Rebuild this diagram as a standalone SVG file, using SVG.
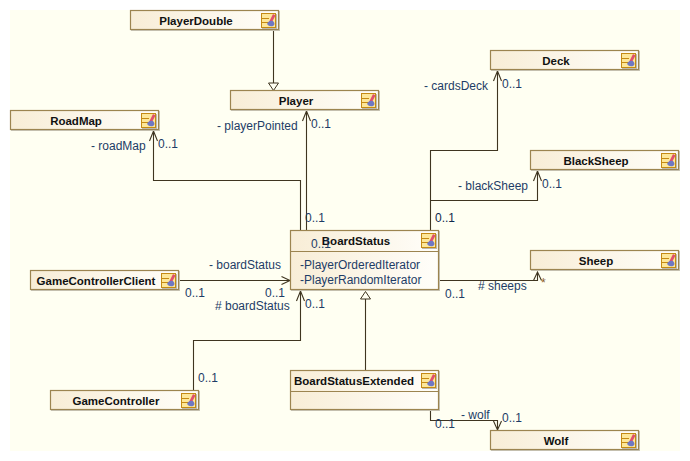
<svg xmlns="http://www.w3.org/2000/svg" width="690" height="461" viewBox="0 0 690 461">
<defs>
<linearGradient id="g" x1="0" y1="0" x2="1" y2="0"><stop offset="0" stop-color="#f8edd6"/><stop offset="1" stop-color="#fffefa"/></linearGradient>
<g id="ic">
<rect x="1" y="1" width="15" height="15" fill="#bdbab0"/>
<rect x="0.500" y="0.500" width="14" height="14" fill="#fde79a" stroke="#c48a14" stroke-width="1"/>
<path d="M1 5.500H8M1 9.500H8" stroke="#c48a14" fill="none"/>
<path d="M8 9L12 1L14.500 2.500L10.500 10Z" fill="#e0506e"/>
<path d="M6 11Q8 7 12 8Q15 11 12 13Q8 14 6 11Z" fill="#6f78c4"/>
</g>
</defs>
<style>
.b{fill:url(#g);stroke:#9c8450;stroke-width:1.200}
.s{fill:none;stroke:#c9c6b8;stroke-width:1}
.d{stroke:#9c8450;fill:none;stroke-width:1.200}
.n{font:bold 11.500px "Liberation Sans",Arial,sans-serif;fill:#111;text-anchor:middle}
.t{font:12px "Liberation Sans",Arial,sans-serif;fill:#1d3c66}
.c{fill:none;stroke:#3f3520;stroke-width:1.100}
.h{fill:#fffff2;stroke:#3f3520;stroke-width:1}
</style>
<rect x="0" y="0" width="690" height="461" fill="#ffffff"/>
<rect x="10" y="10" width="670" height="441" fill="#fffff2"/>
<g id="connectors">
<path class="c" d="M273.500 30V83"/>
<path class="h" d="M273.500 90.500L268.500 83H278.500Z"/>
<path class="c" d="M306.500 256V111M302.500 121L306.500 111L310.500 121"/>
<path class="c" d="M300.500 230V180.500H153.500V131M149.500 141L153.500 131L157.500 141"/>
<path class="c" d="M430.500 230V150.500H497.500V71M493.500 81L497.500 71L501.500 81"/>
<path class="c" d="M430.500 200.500H537.500V171M533.500 181L537.500 171L541.500 181"/>
<path class="c" d="M440 280.500H537.500V272M533.500 280.500L537.500 272L541.500 280.500"/>
<path class="c" d="M180 280.500H290M281.500 276.500L290 280.500L281.500 284.500"/>
<path class="c" d="M193.500 390V340.500H300.500V291M296.500 301L300.500 291L304.500 301"/>
<path class="c" d="M365.500 370V299"/>
<path class="h" d="M365.500 291.500L360.500 299H370.500Z"/>
<path class="c" d="M430.500 410V420.500H497.500V430M493.500 421L497.500 430L501.500 421"/>
</g>
<g id="PlayerDouble"><rect class="s" x="131.500" y="11.500" width="148" height="19"/><rect class="b" x="130.500" y="10.500" width="148" height="19"/><text class="n" x="196" y="25">PlayerDouble</text><use href="#ic" x="261" y="13"/></g>
<g id="Player"><rect class="s" x="231.500" y="91.500" width="148" height="19"/><rect class="b" x="230.500" y="90.500" width="148" height="19"/><text class="n" x="296" y="105">Player</text><use href="#ic" x="361" y="93"/></g>
<g id="RoadMap"><rect class="s" x="11.500" y="111.500" width="148" height="19"/><rect class="b" x="10.500" y="110.500" width="148" height="19"/><text class="n" x="76" y="125">RoadMap</text><use href="#ic" x="141" y="113"/></g>
<g id="Deck"><rect class="s" x="491.500" y="51.500" width="148" height="19"/><rect class="b" x="490.500" y="50.500" width="148" height="19"/><text class="n" x="556" y="65">Deck</text><use href="#ic" x="621" y="53"/></g>
<g id="BlackSheep"><rect class="s" x="531.500" y="151.500" width="148" height="19"/><rect class="b" x="530.500" y="150.500" width="148" height="19"/><text class="n" x="596" y="165">BlackSheep</text><use href="#ic" x="661" y="153"/></g>
<g id="Sheep"><rect class="s" x="531.500" y="251.500" width="148" height="19"/><rect class="b" x="530.500" y="250.500" width="148" height="19"/><text class="n" x="596" y="265">Sheep</text><use href="#ic" x="661" y="253"/></g>
<g id="BoardStatus"><rect class="s" x="291.500" y="231.500" width="148" height="59"/><rect class="b" x="290.500" y="230.500" width="148" height="59"/><path class="d" d="M290.500 251.500H438.500"/><text class="n" x="356" y="245">BoardStatus</text><use href="#ic" x="421" y="233"/><text class="t" x="300" y="269">-PlayerOrderedIterator</text><text class="t" x="300" y="284">-PlayerRandomIterator</text></g>
<g id="GameControllerClient"><rect class="s" x="31.500" y="271.500" width="148" height="19"/><rect class="b" x="30.500" y="270.500" width="148" height="19"/><text class="n" x="96" y="285">GameControllerClient</text><use href="#ic" x="161" y="273"/></g>
<g id="GameController"><rect class="s" x="51.500" y="391.500" width="148" height="19"/><rect class="b" x="50.500" y="390.500" width="148" height="19"/><text class="n" x="116" y="405">GameController</text><use href="#ic" x="181" y="393"/></g>
<g id="BoardStatusExtended"><rect class="s" x="291.500" y="371.500" width="148" height="39"/><rect class="b" x="290.500" y="370.500" width="148" height="39"/><path class="d" d="M290.500 391.500H438.500"/><text class="n" x="354" y="385">BoardStatusExtended</text><use href="#ic" x="421" y="373"/></g>
<g id="Wolf"><rect class="s" x="491.500" y="431.500" width="148" height="19"/><rect class="b" x="490.500" y="430.500" width="148" height="19"/><text class="n" x="556" y="445">Wolf</text><use href="#ic" x="621" y="433"/></g>
<g id="labels">
<text class="t" x="217" y="130">- playerPointed</text>
<text class="t" x="311" y="128">0..1</text>
<text class="t" x="91" y="150">- roadMap</text>
<text class="t" x="158" y="148">0..1</text>
<text class="t" x="424" y="90">- cardsDeck</text>
<text class="t" x="502" y="88">0..1</text>
<text class="t" x="458" y="190">- blackSheep</text>
<text class="t" x="542" y="188">0..1</text>
<text class="t" x="435" y="222" style="fill:#0f2a4d">0..1</text>
<text class="t" x="305" y="222">0..1</text>
<text class="t" x="311" y="248">0..1</text>
<text class="t" x="209" y="269">- boardStatus</text>
<text class="t" x="185" y="297">0..1</text>
<text class="t" x="265" y="297">0..1</text>
<text class="t" x="215" y="310"># boardStatus</text>
<text class="t" x="305" y="308">0..1</text>
<text class="t" x="445" y="298">0..1</text>
<text class="t" x="478" y="290"># sheeps</text>
<text class="t" x="541" y="287" style="fill:#8a5a2a">*</text>
<text class="t" x="198" y="382">0..1</text>
<text class="t" x="435" y="428">0..1</text>
<text class="t" x="461" y="419">- wolf</text>
<text class="t" x="502" y="422">0..1</text>
</g>
</svg>
